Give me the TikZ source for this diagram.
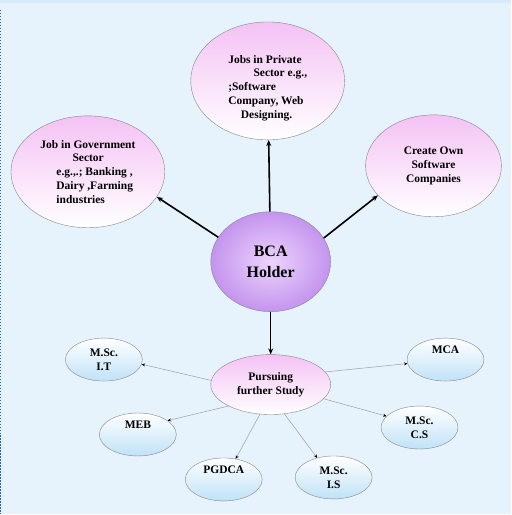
\documentclass[tikz,border=0pt]{standalone}
\usepackage{fontspec}
\setmainfont{Liberation Serif}
\usetikzlibrary{positioning, arrows.meta, shapes.geometric}

\definecolor{pagebg}{RGB}{230,242,252}
\definecolor{topband}{RGB}{214,234,250}
\definecolor{edgeblue}{RGB}{30,100,200}
\definecolor{pinktop}{RGB}{244,194,244}
\definecolor{bluebot}{RGB}{192,226,248}
\definecolor{bcain}{RGB}{236,212,252}
\definecolor{bcaout}{RGB}{196,148,238}
\definecolor{rimgray}{RGB}{135,135,135}

\tikzset{
	jobtext/.style={font=\bfseries\fontsize{11.5}{13.8}\selectfont, inner sep=0pt},
	job/.style={ellipse, draw=rimgray, thin, inner sep=0pt,
		top color=pinktop, middle color=pinktop!45, bottom color=white, jobtext},
	holder/.style={ellipse, draw=rimgray, thin, inner sep=0pt,
		inner color=bcain, outer color=bcaout, align=center,
		minimum width=120pt, minimum height=100pt,
		font=\bfseries\fontsize{16}{21}\selectfont},
	degree/.style={ellipse, draw=rimgray, thin, inner sep=0pt, align=center,
		top color=white, bottom color=bluebot,
		minimum width=77pt, minimum height=43pt,
		font=\bfseries\fontsize{11.5}{14}\selectfont},
	bigarrow/.style={-{Stealth[length=6pt, width=5pt]}, line width=1.6pt},
	smallarrow/.style={-{Stealth[length=3.5pt, width=3pt, black]}, gray!75, line width=0.5pt}
}

\begin{document}
\begin{tikzpicture}[x=1pt, y=-1pt]
		% background %
		\fill[pagebg] (0,0) rectangle (512,515);
		\fill[topband] (0,0) rectangle (512,3);
		\draw[edgeblue, line width=1.2pt, dash pattern=on 1.5pt off 1.5pt] (0.6,10) -- (0.6,515);
		\useasboundingbox (0,0) rectangle (512,515);

		% nodes %
		\node[holder] (bca) at (271,262) {BCA\\Holder};
		\node[job, minimum width=154pt, minimum height=118pt,
			label={[jobtext, align=left, yshift=-7pt]center:{Jobs in Private\\\hspace*{2.2em}Sector e.g.,\\;Software\\Company, Web\\\hspace*{1.1em}Designing.}}]
			(priv) at (268,81) {};
		\node[job, align=left, minimum width=154pt, minimum height=112pt] (gov) at (88,172)
			{Job in Government\\\hspace*{2.8em}Sector\\\hspace*{1.4em}e.g.,.; Banking ,\\\hspace*{1.4em}Dairy ,Farming\\\hspace*{1.4em}industries};
		\node[job, align=center, minimum width=136pt, minimum height=102pt] (own) at (434,166)
			{Create Own\\Software\\Companies};
		\node[job, align=center, minimum width=120pt, minimum height=60pt] (study) at (271,385)
			{Pursuing\\further Study};

		\node[degree] (msit) at (104,360) {M.Sc.\\I.T};
		\node[degree] (mca) at (446,360) {MCA\\[6pt]};
		\node[degree] (meb) at (138,435) {MEB\\[6pt]};
		\node[degree] (mscs) at (420,428) {M.Sc.\\C.S};
		\node[degree] (pgdca) at (224,480) {PGDCA\\[6pt]};
		\node[degree] (msis) at (334,478) {M.Sc.\\I.S};

		% edges %
		\draw[bigarrow] (bca) -- (priv);
		\draw[bigarrow] (bca.155) -- (gov.-20);
		\draw[bigarrow] (bca.24) -- (own.208);
		\draw[bigarrow] (bca) -- (study);

		\draw[smallarrow] (study.176) -- (msit.353);
		\draw[smallarrow] (study.13) -- (mca.186);
		\draw[smallarrow] (study.207) -- (meb.25);
		\draw[smallarrow] (study.345) -- (mscs.161);
		\draw[smallarrow] (study.250) -- (pgdca.60);
		\draw[smallarrow] (study.295) -- (msis.130);
		\end{tikzpicture}
\end{document}
